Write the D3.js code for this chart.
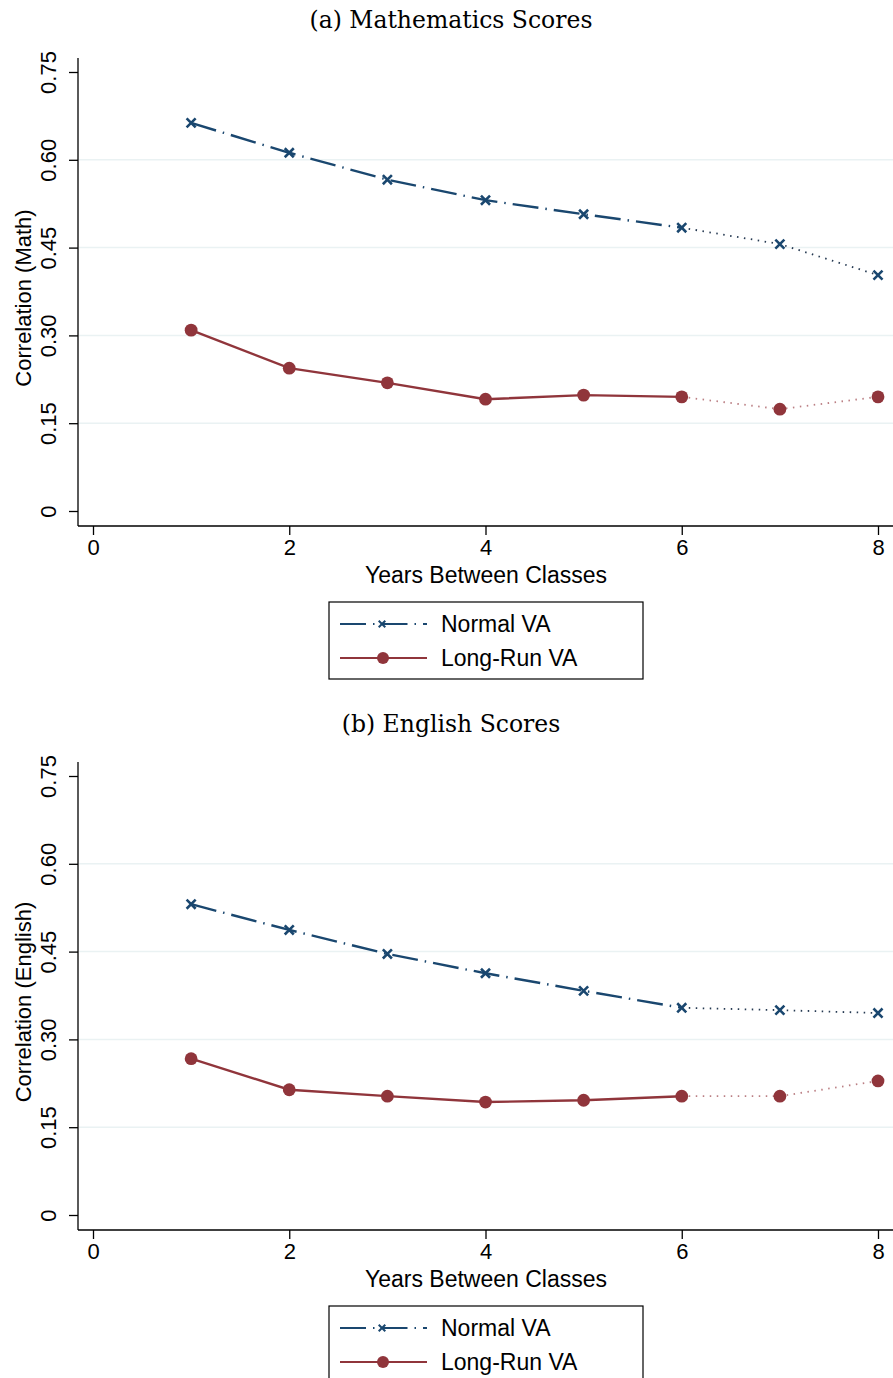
<!DOCTYPE html>
<html>
<head>
<meta charset="utf-8">
<script src="https://cdn.jsdelivr.net/npm/d3@7"></script>
<style>
  body { margin: 0; background: #fff; }
  text { font-family: "Liberation Sans", Arial, sans-serif; fill: #000; }
  .title { font-family: "DejaVu Serif", "Liberation Serif", serif; }
</style>
</head>
<body>
<svg width="893" height="1378"></svg>
<script>
const years = [1, 2, 3, 4, 5, 6, 7, 8];
const xTicks = [0, 2, 4, 6, 8];
const yTicks = [0, 0.15, 0.30, 0.45, 0.60, 0.75];
const seriesNames = ['Normal VA', 'Long-Run VA'];

const mathNormal = [0.663, 0.612, 0.566, 0.531, 0.507, 0.484, 0.456, 0.403];
const mathLongRun = [0.309, 0.244, 0.219, 0.191, 0.198, 0.195, 0.174, 0.195];
const engNormal = [0.531, 0.487, 0.446, 0.413, 0.383, 0.354, 0.350, 0.345];
const engLongRun = [0.267, 0.214, 0.203, 0.193, 0.196, 0.203, 0.203, 0.229];

const navy = '#1a476f', maroon = '#90353b';

const svg = d3.select('svg');

const x = d3.scaleLinear().domain([0, 8]).range([93, 878]);
const y = d3.scaleLinear().domain([0, 0.75]).range([511, 72]);

function drawPanel(top, title, ylabel, normal, longRun) {
  const g = svg.append('g').attr('transform', `translate(0,${top})`);

  g.append('text').attr('class', 'title')
      .attr('x', 451).attr('y', 28)
      .attr('text-anchor', 'middle')
      .style('font-size', '23.5px')
      .text(title);

  // grid
  g.selectAll('.grid')
    .data(yTicks.filter(d => d > 0 && d < 0.75))
    .enter().append('line')
      .attr('x1', 79).attr('x2', 893)
      .attr('y1', d => y(d)).attr('y2', d => y(d))
      .attr('stroke', '#eaf2f3').attr('stroke-width', 1.5);

  // axes
  const yAxis = g.append('g').attr('transform', 'translate(78,0)')
      .call(d3.axisLeft(y).tickValues(yTicks).tickFormat(d => d === 0 ? '0' : d3.format('.2f')(d)).tickSize(9).tickSizeOuter(0));
  yAxis.select('.domain').attr('d', 'M0,526V58').attr('stroke-width', 1.3);
  yAxis.selectAll('.tick line').attr('stroke-width', 1.3);
  yAxis.selectAll('.tick text')
      .attr('transform', 'rotate(-90)')
      .attr('x', 0).attr('y', -30).attr('dy', '0.35em')
      .attr('text-anchor', 'middle')
      .style('font-size', '22px').attr('font-family', null);

  const xAxis = g.append('g').attr('transform', 'translate(0,526)')
      .call(d3.axisBottom(x).tickValues(xTicks).tickSize(9).tickSizeOuter(0));
  xAxis.select('.domain').attr('d', 'M78,0H893').attr('stroke-width', 1.3);
  xAxis.selectAll('.tick line').attr('stroke-width', 1.3);
  xAxis.selectAll('.tick text').attr('y', 13).style('font-size', '22px').attr('font-family', null);

  g.append('text')
      .attr('x', 486).attr('y', 583)
      .attr('text-anchor', 'middle')
      .style('font-size', '23px')
      .text('Years Between Classes');

  g.append('text')
      .attr('transform', 'translate(31,298) rotate(-90)')
      .attr('text-anchor', 'middle')
      .style('font-size', '22px')
      .text(ylabel);

  const line = d3.line().x(d => x(d[0])).y(d => y(d[1]));
  const pts = s => years.map((yr, i) => [yr, s[i]]);

  const nPts = pts(normal), lPts = pts(longRun);

  // dotted tails (years 6-8)
  g.append('path').attr('d', line(nPts.slice(5)))
      .attr('fill', 'none').attr('stroke', '#263a52').attr('stroke-width', 1.8)
      .attr('stroke-dasharray', '1.5,5.5');
  g.append('path').attr('d', line(lPts.slice(5)))
      .attr('fill', 'none').attr('stroke', '#bb7f84').attr('stroke-width', 1.8)
      .attr('stroke-dasharray', '1.5,5.5');

  // main segments (years 1-6)
  g.append('path').attr('d', line(nPts.slice(0, 6)))
      .attr('fill', 'none').attr('stroke', navy).attr('stroke-width', 2.4)
      .attr('stroke-dasharray', '26,7,1.5,7');
  g.append('path').attr('d', line(lPts.slice(0, 6)))
      .attr('fill', 'none').attr('stroke', maroon).attr('stroke-width', 2.4);

  // markers
  const cross = d3.symbol().type(d3.symbolX).size(55);
  g.selectAll('.xm').data(nPts).enter().append('path')
      .attr('d', cross)
      .attr('transform', d => `translate(${x(d[0])},${y(d[1])})`)
      .attr('fill', 'none').attr('stroke', navy).attr('stroke-width', 2.6);
  g.selectAll('.cm').data(lPts).enter().append('circle')
      .attr('cx', d => x(d[0])).attr('cy', d => y(d[1]))
      .attr('r', 6.4).attr('fill', maroon);

  // legend
  const lg = g.append('g');
  lg.append('rect').attr('x', 329).attr('y', 602).attr('width', 314).attr('height', 77)
      .attr('fill', '#fff').attr('stroke', '#000').attr('stroke-width', 1.2);
  lg.append('line').attr('x1', 340).attr('x2', 427).attr('y1', 624).attr('y2', 624)
      .attr('stroke', navy).attr('stroke-width', 1.8).attr('stroke-dasharray', '26,7,1.5,7');
  lg.append('path').attr('d', d3.symbol().type(d3.symbolX).size(30))
      .attr('transform', 'translate(382,624)')
      .attr('fill', 'none').attr('stroke', navy).attr('stroke-width', 2);
  lg.append('line').attr('x1', 340).attr('x2', 427).attr('y1', 658).attr('y2', 658)
      .attr('stroke', maroon).attr('stroke-width', 1.8);
  lg.append('circle').attr('cx', 383).attr('cy', 658).attr('r', 6).attr('fill', maroon);
  lg.selectAll('.lt').data(seriesNames).enter().append('text')
      .attr('x', 441).attr('y', (d, i) => 624 + i * 34).attr('dy', '0.35em')
      .style('font-size', '23px')
      .text(d => d);
}

drawPanel(0, '(a) Mathematics Scores', 'Correlation (Math)', mathNormal, mathLongRun);
drawPanel(704, '(b) English Scores', 'Correlation (English)', engNormal, engLongRun);
</script>
</body>
</html>
